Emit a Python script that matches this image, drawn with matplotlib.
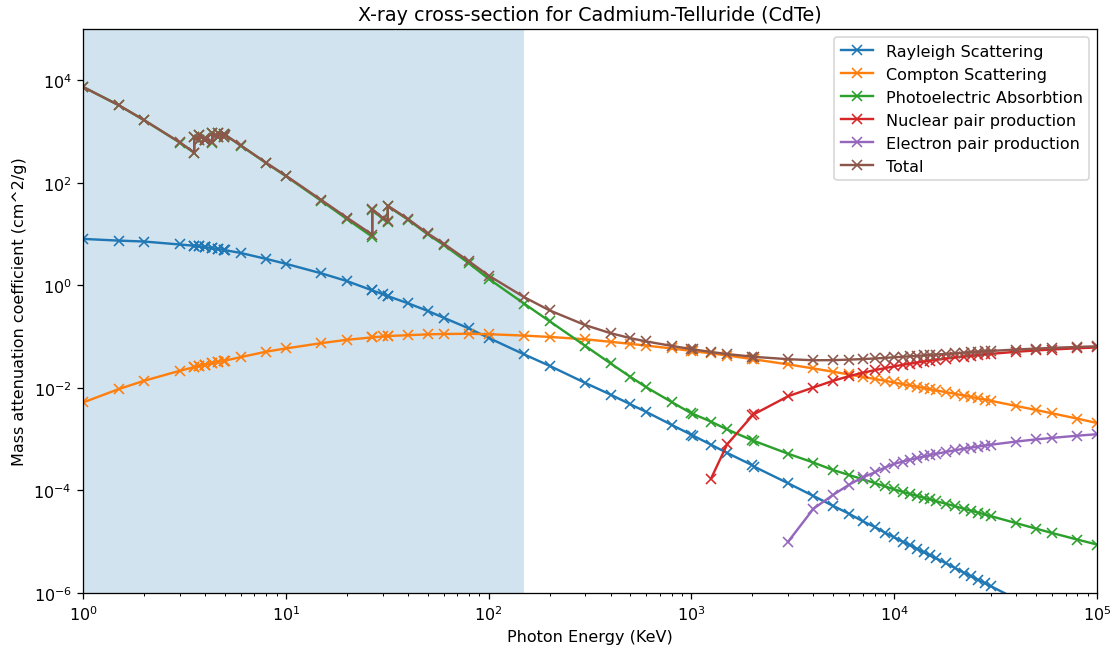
"""Mass attenuation coefficients of CdTe split by interaction process, log-log plot."""

import matplotlib

matplotlib.use("Agg")
import matplotlib.pyplot as plt
import numpy as np

# Photon energy grid in keV (absorption edges appear twice: below / above)
energy_kev = [
    1, 1.5, 2, 3,
    3.5375, 3.5375, 3.727, 3.727, 4.0, 4.018, 4.018,
    4.3414, 4.3414, 4.612, 4.612, 4.9392, 4.9392, 5,
    6, 8, 10, 15, 20, 26.711, 26.711, 30, 31.814, 31.814,
    40, 50, 60, 80, 100, 150, 200, 300, 400, 500, 600, 800,
    1000, 1022, 1250, 1500, 2000, 2044, 3000, 4000, 5000, 6000,
    7000, 8000, 9000, 10000, 11000, 12000, 13000, 14000, 15000, 16000,
    18000, 20000, 22000, 24000, 26000, 28000, 30000,
    40000, 50000, 60000, 80000, 100000,
]

# cm^2/g
rayleigh = [
    8.1, 7.5, 7.2, 6.3,
    5.95, 5.95, 5.8, 5.8, 5.6, 5.59, 5.59,
    5.35, 5.35, 5.15, 5.15, 4.95, 4.95, 4.9,
    4.3, 3.3, 2.65, 1.72, 1.22, 0.80, 0.80, 0.68, 0.62, 0.62,
    0.45, 0.32, 0.235, 0.145, 0.095, 0.045, 0.027, 0.0125, 0.0074, 0.0048, 0.0034, 0.0019,
    1.22e-3, 1.17e-3, 7.8e-4, 5.4e-4, 3.1e-4, 2.9e-4, 1.38e-4, 7.8e-5, 5.0e-5, 3.5e-5,
    2.5e-5, 1.95e-5, 1.5e-5, 1.22e-5, 1.0e-5, 8.5e-6, 7.2e-6, 6.2e-6, 5.4e-6, 4.8e-6,
    3.8e-6, 3.05e-6, 2.5e-6, 2.1e-6, 1.8e-6, 1.55e-6, 1.35e-6,
    7.6e-7, 4.9e-7, 3.4e-7, 1.9e-7, 1.22e-7,
]

compton = [
    0.0052, 0.0095, 0.0138, 0.0216,
    0.0255, 0.0255, 0.0268, 0.0268, 0.0285, 0.0286, 0.0286,
    0.0305, 0.0305, 0.032, 0.032, 0.0337, 0.0337, 0.034,
    0.040, 0.051, 0.059, 0.075, 0.087, 0.097, 0.097, 0.101, 0.103, 0.103,
    0.107, 0.111, 0.113, 0.114, 0.112, 0.105, 0.099, 0.089, 0.0795, 0.0725, 0.067, 0.059,
    0.0528, 0.0522, 0.0473, 0.0429, 0.0366, 0.0361, 0.0288, 0.0240, 0.0207, 0.0183,
    0.0164, 0.0150, 0.0138, 0.0128, 0.0119, 0.0112, 0.0105, 0.0100, 0.00947, 0.00902,
    0.00827, 0.00765, 0.00712, 0.00667, 0.00627, 0.00592, 0.00560,
    0.00445, 0.00372, 0.00320, 0.00252, 0.00207,
]

photoelectric = [
    7490, 3290, 1680, 615,
    386, 774, 674, 844, 694, 687, 754,
    615, 925, 795, 955, 795, 905, 875,
    535, 245, 136, 44.5, 19.8, 8.9, 30.0, 20.0, 17.6, 35.3,
    19.3, 10.0, 6.2, 2.7, 1.35, 0.44, 0.20, 0.066, 0.030, 0.0165, 0.0103, 0.0053,
    3.2e-3, 3.1e-3, 2.2e-3, 1.55e-3, 9.5e-4, 9.2e-4, 5.2e-4, 3.5e-4, 2.5e-4, 2.0e-4,
    1.65e-4, 1.4e-4, 1.2e-4, 1.05e-4, 9.4e-5, 8.5e-5, 7.8e-5, 7.2e-5, 6.7e-5, 6.2e-5,
    5.5e-5, 4.9e-5, 4.4e-5, 4.0e-5, 3.7e-5, 3.4e-5, 3.15e-5,
    2.3e-5, 1.8e-5, 1.48e-5, 1.1e-5, 8.8e-6,
]

# pair production only exists above threshold: values start at 1250 keV / 3000 keV
nuclear_pair = [
    1.7e-4, 7.9e-4, 2.9e-3, 3.1e-3, 6.9e-3, 1.02e-2, 1.38e-2, 1.70e-2,
    1.98e-2, 2.22e-2, 2.44e-2, 2.64e-2, 2.82e-2, 2.98e-2, 3.13e-2, 3.27e-2, 3.40e-2, 3.52e-2,
    3.74e-2, 3.93e-2, 4.10e-2, 4.25e-2, 4.39e-2, 4.51e-2, 4.63e-2,
    5.08e-2, 5.39e-2, 5.62e-2, 5.95e-2, 6.17e-2,
]

electron_pair = [
    1.0e-5, 4.4e-5, 8.2e-5, 1.3e-4,
    1.8e-4, 2.25e-4, 2.8e-4, 3.3e-4, 3.65e-4, 4.0e-4, 4.3e-4, 4.6e-4, 4.9e-4, 5.15e-4,
    5.65e-4, 6.1e-4, 6.5e-4, 6.85e-4, 7.2e-4, 7.5e-4, 7.8e-4,
    9.0e-4, 9.9e-4, 1.06e-3, 1.17e-3, 1.25e-3,
]

total = [
    7498, 3298, 1687, 621,
    392, 780, 680, 850, 700, 693, 760,
    620, 930, 800, 960, 800, 910, 880,
    539, 248, 139, 46.3, 21.1, 9.8, 30.9, 20.8, 18.3, 36.0,
    19.9, 10.4, 6.55, 2.96, 1.56, 0.59, 0.326, 0.168, 0.117, 0.0938, 0.0807, 0.0662,
    0.0572, 0.0565, 0.0504, 0.0458, 0.0408, 0.0404, 0.0364, 0.0347, 0.0349, 0.0357,
    0.0366, 0.0376, 0.0386, 0.0397, 0.0406, 0.0415, 0.0423, 0.0432, 0.0440, 0.0448,
    0.0462, 0.0476, 0.0488, 0.0499, 0.0510, 0.0518, 0.0527,
    0.0562, 0.0586, 0.0605, 0.0632, 0.0650,
]

energy = np.array(energy_kev)

fig, ax = plt.subplots(figsize=(9.687, 5.713), dpi=115)
fig.subplots_adjust(left=0.0745, right=0.9847, bottom=0.096, top=0.954)

# low-energy band of interest
ax.axvspan(1, 150, alpha=0.2)

ax.plot(energy, rayleigh, marker="x", label="Rayleigh Scattering")
ax.plot(energy, compton, marker="x", label="Compton Scattering")
ax.plot(energy, photoelectric, marker="x", label="Photoelectric Absorbtion")
ax.plot(energy[-len(nuclear_pair):], nuclear_pair, marker="x", label="Nuclear pair production")
ax.plot(energy[-len(electron_pair):], electron_pair, marker="x", label="Electron pair production")
ax.plot(energy, total, marker="x", label="Total")

ax.set_xscale("log")
ax.set_yscale("log")
ax.set_xlim(1, 1e5)
ax.set_ylim(1e-6, 1e5)
ax.set_title("X-ray cross-section for Cadmium-Telluride (CdTe)")
ax.set_xlabel("Photon Energy (KeV)")
ax.set_ylabel("Mass attenuation coefficient (cm^2/g)")
ax.legend(loc="upper right")

fig.savefig("out.png")
plt.close(fig)
